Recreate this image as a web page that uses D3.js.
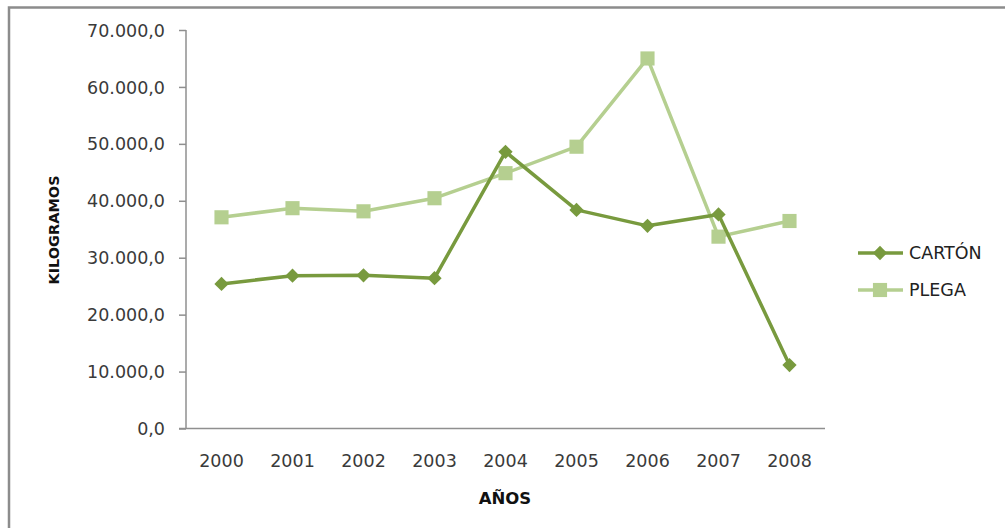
<!DOCTYPE html>
<html><head><meta charset="utf-8">
<script src="https://cdn.jsdelivr.net/npm/d3@7"></script>
<style>
html,body{margin:0;padding:0;background:#fff;}
svg{display:block;}
text{font-family:"DejaVu Sans",sans-serif;}
</style></head>
<body>
<svg id="chart" width="1005" height="528"></svg>
<script>
const years = ["2000","2001","2002","2003","2004","2005","2006","2007","2008"];
const carton = [25400, 26850, 26900, 26400, 48600, 38400, 35600, 37600, 11150];
const plega  = [37100, 38700, 38150, 40450, 44850, 49500, 65000, 33700, 36450];
const yTicks = [0, 10000, 20000, 30000, 40000, 50000, 60000, 70000];
const seriesNames = ["CARTÓN", "PLEGA"];

const svg = d3.select("#chart");
const colors = {"CARTÓN": "#789a3e", "PLEGA": "#b5cf90"};

// frame
svg.append("path").attr("d","M9,528 V7.5 H1005").attr("fill","none").attr("stroke","#8c8c8c").attr("stroke-width",2.5);

const x = d3.scaleBand().domain(years).range([186, 825]);
const y = d3.scaleLinear().domain([0, 70000]).range([428.5, 30]);
const fmt = v => d3.format(",.1f")(v).replace(/,/g,"#").replace(".",",").replace(/#/g,".");

const yAxis = svg.append("g").attr("transform","translate(186,0)")
  .call(d3.axisLeft(y).tickValues(yTicks).tickFormat(fmt).tickSize(7).tickPadding(14));
yAxis.select(".domain").attr("stroke","#8f8f8f").attr("stroke-width",1.5).attr("d","M0,428.5V30");
yAxis.selectAll(".tick line").attr("stroke","#8f8f8f").attr("stroke-width",1.5);
yAxis.selectAll(".tick text").attr("fill","#3a3a3a").attr("font-size",17.5).attr("dy","0.35em");

const xAxis = svg.append("g").attr("transform","translate(0,428.5)")
  .call(d3.axisBottom(x).tickSize(0).tickPadding(32));
xAxis.select(".domain").attr("stroke","#8f8f8f").attr("stroke-width",1.5).attr("d","M179,0H825");
xAxis.selectAll(".tick text").attr("fill","#3a3a3a").attr("font-size",17.5).attr("dy","0.35em");

svg.append("text").attr("x",505).attr("y",504).attr("text-anchor","middle")
  .attr("font-size",16.5).attr("font-weight","bold").attr("fill","#111").text("AÑOS");
svg.append("text").attr("transform","translate(59,230) rotate(-90)").attr("text-anchor","middle")
  .attr("font-size",14.5).attr("font-weight","bold").attr("fill","#111").text("KILOGRAMOS");

const data = {"CARTÓN": carton, "PLEGA": plega};
const line = d3.line().x((d,i)=>x(years[i])+x.bandwidth()/2).y(d=>y(d));
const diamond = d3.symbol().type(d3.symbolDiamond2).size(130);
const square = d3.symbol().type(d3.symbolSquare).size(200);

["PLEGA","CARTÓN"].forEach(name=>{
  const g = svg.append("g");
  g.append("path").datum(data[name]).attr("d",line).attr("fill","none")
    .attr("stroke",colors[name]).attr("stroke-width",3.5).attr("stroke-linejoin","round");
  g.selectAll("path.m").data(data[name]).join("path").attr("class","m")
    .attr("transform",(d,i)=>`translate(${x(years[i])+x.bandwidth()/2},${y(d)})`)
    .attr("d", name==="CARTÓN" ? diamond : square).attr("fill",colors[name]);
});

// legend
const legY = {"CARTÓN": 253, "PLEGA": 290};
seriesNames.forEach(name=>{
  const g = svg.append("g");
  g.append("line").attr("x1",858).attr("x2",903).attr("y1",legY[name]).attr("y2",legY[name])
    .attr("stroke",colors[name]).attr("stroke-width",3.5);
  g.append("path").attr("transform",`translate(880,${legY[name]})`)
    .attr("d", name==="CARTÓN" ? diamond : square).attr("fill",colors[name]);
  g.append("text").attr("x",909).attr("y",legY[name]).attr("dy","0.35em")
    .attr("font-size",17.5).attr("fill","#222").text(name);
});
</script>
</body></html>
